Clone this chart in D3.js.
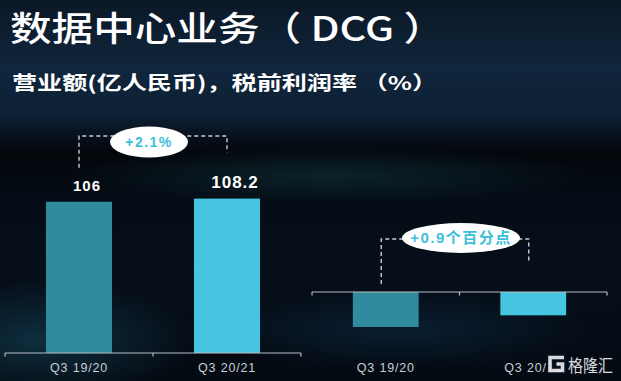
<!DOCTYPE html>
<html>
<head>
<meta charset="utf-8">
<script src="https://cdn.jsdelivr.net/npm/d3@7"></script>
<style>
  html, body { margin: 0; padding: 0; }
  body {
    width: 621px; height: 381px; overflow: hidden;
    background:
      radial-gradient(ellipse 160px 60px at 40px 340px, rgba(30,110,140,0.35), rgba(0,0,0,0)),
      radial-gradient(ellipse 200px 40px at 400px 330px, rgba(20,70,110,0.3), rgba(0,0,0,0)),
      radial-gradient(ellipse 260px 30px at 330px 175px, rgba(30,110,120,0.25), rgba(0,0,0,0)),
      linear-gradient(to bottom, #0b1826 0%, #10263c 18%, #0e2034 30%, #03060b 40%, #050c15 52%, #060f1a 70%, #040a12 100%);
  }
  svg { display: block; }
</style>
</head>
<body>
<svg id="chart" width="621" height="381"></svg>
<script>
// ---- data ----
const titleText = "数据中心业务（ DCG ）";
const subtitleText = "营业额(亿人民币)，税前利润率 （%）";
const periods = ["Q3 19/20", "Q3 20/21"];
const revenue = [106, 108.2];          // 亿人民币
const revenueLabels = ["106", "108.2"];
const revenueChange = "+2.1%";
const pretaxMargin = [-2.7, -1.8];     // %
const marginChange = "+0.9个百分点";
const watermark = "格隆汇";

const svg = d3.select("#chart");
const barColors = ["#2f8c9e", "#45c5df"];

// ---- titles ----
svg.append("text").attr("x", 10).attr("y", 41)
  .attr("textLength", 435).attr("lengthAdjust", "spacingAndGlyphs")
  .style("font-family", "'Noto Sans CJK SC', sans-serif").style("font-weight", 500)
  .style("font-size", "34px").attr("fill", "#ffffff").text(titleText);
svg.append("text").attr("x", 12).attr("y", 90)
  .attr("textLength", 425).attr("lengthAdjust", "spacingAndGlyphs")
  .style("font-family", "'Noto Sans CJK SC', sans-serif").style("font-weight", 700)
  .style("font-size", "19px").attr("fill", "#ffffff").text(subtitleText);

// ---- generic panel ----
function drawPanel(opts) {
  const { values, x0, x1, yScale, baseY } = opts;
  const x = d3.scaleBand().domain(periods).range([x0, x1]).padding(0);
  const bw = x.bandwidth() * 0.446;
  const cx = d => x(d) + x.bandwidth() / 2;
  const g = svg.append("g");

  // bars
  g.selectAll("rect.bar").data(periods).enter().append("rect")
    .attr("x", d => cx(d) - bw / 2)
    .attr("width", bw)
    .attr("y", (d, i) => Math.min(yScale(values[i]), yScale(0)))
    .attr("height", (d, i) => Math.abs(yScale(values[i]) - yScale(0)))
    .attr("fill", (d, i) => barColors[i]);

  // axis
  const axis = d3.axisBottom(x).tickSize(0).tickPadding(opts.tickPad);
  const ag = g.append("g").attr("transform", `translate(0,${baseY})`).call(axis);
  ag.select(".domain").remove();
  ag.selectAll("text")
    .style("font-family", "Arial, 'Liberation Sans', sans-serif")
    .style("font-size", "12.5px").style("letter-spacing", "0.8px")
    .attr("fill", "#c9ced3");
  g.append("line").attr("x1", x0).attr("x2", x1).attr("y1", baseY).attr("y2", baseY)
    .attr("stroke", "#b9bec4").attr("stroke-width", 1.2);
  const bounds = periods.map(d => x(d)).concat([x1]);
  g.selectAll("line.tk").data(bounds).enter().append("line")
    .attr("x1", d => d).attr("x2", d => d).attr("y1", baseY).attr("y2", baseY + 3.5)
    .attr("stroke", "#b9bec4").attr("stroke-width", 1.2);

  // bracket
  const bx = periods.map(d => cx(d) + opts.bracketDx);
  const topY = opts.bracketTop;
  g.append("path")
    .attr("d", `M${bx[0]},${opts.bracketEnds[0]} V${topY} H${bx[1]} V${opts.bracketEnds[1]}`)
    .attr("fill", "none").attr("stroke", "#c8cdd2").attr("stroke-width", 1.4)
    .attr("stroke-dasharray", "4,3");

  // bubble
  const mx = (bx[0] + bx[1]) / 2 + opts.bubbleDx;
  g.append("ellipse").attr("cx", mx).attr("cy", opts.bubbleY)
    .attr("rx", opts.bubbleRx).attr("ry", opts.bubbleRy).attr("fill", "#ffffff");
  g.append("text").attr("x", mx).attr("y", opts.bubbleY + 5)
    .attr("text-anchor", "middle")
    .style("font-family", "Arial, 'Noto Sans CJK SC', sans-serif").style("font-weight", 700)
    .style("font-size", opts.bubbleFont).style("letter-spacing", opts.bubbleSpacing)
    .attr("fill", "#3dbfdb").text(opts.bubbleText);

  return { x, cx };
}

// ---- left panel: revenue ----
const yL = d3.scaleLinear().domain([0, 120]).range([353, 353 - 120 * 1.427]);
const left = drawPanel({
  values: revenue, x0: 5, x1: 301, yScale: yL, baseY: 353, tickPad: 10,
  bracketDx: 0, bracketTop: 136,
  bracketEnds: [yL(revenue[0]) - 34, yL(revenue[1]) - 46],
  bubbleDx: -4, bubbleY: 142, bubbleRx: 39, bubbleRy: 15.5,
  bubbleText: revenueChange, bubbleFont: "14px", bubbleSpacing: "1.5px"
});
svg.selectAll("text.val").data(periods).enter().append("text")
  .attr("x", (d, i) => left.cx(d) + 8)
  .attr("y", (d, i) => yL(revenue[i]) - 11)
  .attr("text-anchor", "middle")
  .style("font-family", "Arial, 'Liberation Sans', sans-serif").style("font-weight", 700)
  .style("font-size", (d, i) => i === 0 ? "15px" : "17px").style("letter-spacing", "1px")
  .attr("fill", "#ffffff").text((d, i) => revenueLabels[i]);

// ---- right panel: pre-tax margin ----
const yR = d3.scaleLinear().domain([-3, 0]).range([292 + 3 * 12.96, 292]);
drawPanel({
  values: pretaxMargin, x0: 312, x1: 607, yScale: yR, baseY: 292, tickPad: 71,
  bracketDx: -4.5, bracketTop: 239,
  bracketEnds: [yR(0) - 8, yR(0) - 31],
  bubbleDx: 6, bubbleY: 238, bubbleRx: 59, bubbleRy: 15,
  bubbleText: marginChange, bubbleFont: "15px", bubbleSpacing: "1.5px"
});

// ---- watermark ----
const wm = svg.append("g").attr("opacity", 0.92);
wm.append("rect").attr("x", 546).attr("y", 353).attr("width", 20).attr("height", 21)
  .attr("fill", "#08111b");
wm.append("path")
  .attr("d", "M564,357.5 H550 V370.5 H562.5 V364 H556.5")
  .attr("fill", "none").attr("stroke", "#e8ecef").attr("stroke-width", 3.6);
wm.append("text").attr("x", 568).attr("y", 372)
  .attr("textLength", 45).attr("lengthAdjust", "spacingAndGlyphs")
  .style("font-family", "'Noto Sans CJK SC', sans-serif").style("font-weight", 400)
  .style("font-size", "17px").attr("fill", "#e8ecef").text(watermark);
</script>
</body>
</html>
